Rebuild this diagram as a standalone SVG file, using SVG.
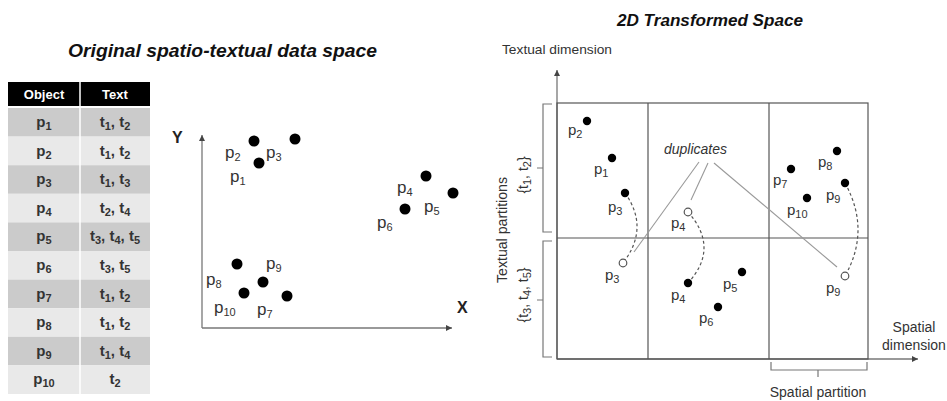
<svg xmlns="http://www.w3.org/2000/svg" width="947" height="401" viewBox="0 0 947 401">
<style>
text{font-family:"Liberation Sans",Arial,sans-serif;}
.title{font-weight:bold;font-style:italic;fill:#111;}
.th{font-size:13px;font-weight:bold;fill:#fff;text-anchor:middle;}
.td{font-size:15px;font-weight:bold;fill:#333;text-anchor:middle;}
.lab{font-size:17px;fill:#333;}
.rlab{font-size:15px;fill:#333;}
.ax{font-size:13px;fill:#333;}
.ax2{font-size:14px;fill:#333;}
.sub{font-size:11px;}
.rowA{fill:#cbcbcb;}
.rowB{fill:#e9e9e9;}
.dot{fill:#000;}
.hol{fill:#fff;stroke:#555;stroke-width:1.2;}
.axis{stroke:#777;stroke-width:1.3;fill:none;}
.grid{stroke:#555;stroke-width:1.2;fill:none;}
.br{stroke:#777;stroke-width:1.2;fill:none;}
.dup{stroke:#999;stroke-width:1.1;fill:none;}
.arc{stroke:#555;stroke-width:1.2;fill:none;stroke-dasharray:3,2.5;}
</style>
<defs>
<marker id="ah" markerWidth="8" markerHeight="8" refX="6" refY="3" orient="auto" markerUnits="userSpaceOnUse">
<path d="M0,0 L6,3 L0,6 z" fill="#444"/>
</marker>
</defs>

<text class="title" x="68" y="57" font-size="19" textLength="309" lengthAdjust="spacingAndGlyphs">Original spatio-textual data space</text>
<text class="title" x="617" y="26" font-size="16" textLength="186" lengthAdjust="spacingAndGlyphs">2D Transformed Space</text>

<g id="table">
<rect x="8" y="82" width="142" height="24" fill="#000"/>
<text class="th" x="44" y="99">Object</text>
<text class="th" x="115" y="99">Text</text>
<rect class="rowA" x="8" y="108" width="142" height="28.6"/>
<rect class="rowB" x="8" y="136.6" width="142" height="28.6"/>
<rect class="rowA" x="8" y="165.2" width="142" height="28.6"/>
<rect class="rowB" x="8" y="193.8" width="142" height="28.6"/>
<rect class="rowA" x="8" y="222.4" width="142" height="28.6"/>
<rect class="rowB" x="8" y="251" width="142" height="28.6"/>
<rect class="rowA" x="8" y="279.6" width="142" height="28.6"/>
<rect class="rowB" x="8" y="308.2" width="142" height="28.6"/>
<rect class="rowA" x="8" y="336.8" width="142" height="28.6"/>
<rect class="rowB" x="8" y="365.4" width="142" height="28.6"/>
<line x1="80" y1="82" x2="80" y2="394" stroke="#fff" stroke-width="1.5"/>
<text class="td" x="44" y="127">p<tspan class="sub" dy="3">1</tspan></text>
<text class="td" x="115" y="127">t<tspan class="sub" dy="3">1</tspan><tspan dy="-3">, t</tspan><tspan class="sub" dy="3">2</tspan></text>
<text class="td" x="44" y="155.6">p<tspan class="sub" dy="3">2</tspan></text>
<text class="td" x="115" y="155.6">t<tspan class="sub" dy="3">1</tspan><tspan dy="-3">, t</tspan><tspan class="sub" dy="3">2</tspan></text>
<text class="td" x="44" y="184.2">p<tspan class="sub" dy="3">3</tspan></text>
<text class="td" x="115" y="184.2">t<tspan class="sub" dy="3">1</tspan><tspan dy="-3">, t</tspan><tspan class="sub" dy="3">3</tspan></text>
<text class="td" x="44" y="212.8">p<tspan class="sub" dy="3">4</tspan></text>
<text class="td" x="115" y="212.8">t<tspan class="sub" dy="3">2</tspan><tspan dy="-3">, t</tspan><tspan class="sub" dy="3">4</tspan></text>
<text class="td" x="44" y="241.4">p<tspan class="sub" dy="3">5</tspan></text>
<text class="td" x="115" y="241.4">t<tspan class="sub" dy="3">3</tspan><tspan dy="-3">, t</tspan><tspan class="sub" dy="3">4</tspan><tspan dy="-3">, t</tspan><tspan class="sub" dy="3">5</tspan></text>
<text class="td" x="44" y="270">p<tspan class="sub" dy="3">6</tspan></text>
<text class="td" x="115" y="270">t<tspan class="sub" dy="3">3</tspan><tspan dy="-3">, t</tspan><tspan class="sub" dy="3">5</tspan></text>
<text class="td" x="44" y="298.6">p<tspan class="sub" dy="3">7</tspan></text>
<text class="td" x="115" y="298.6">t<tspan class="sub" dy="3">1</tspan><tspan dy="-3">, t</tspan><tspan class="sub" dy="3">2</tspan></text>
<text class="td" x="44" y="327.2">p<tspan class="sub" dy="3">8</tspan></text>
<text class="td" x="115" y="327.2">t<tspan class="sub" dy="3">1</tspan><tspan dy="-3">, t</tspan><tspan class="sub" dy="3">2</tspan></text>
<text class="td" x="44" y="355.8">p<tspan class="sub" dy="3">9</tspan></text>
<text class="td" x="115" y="355.8">t<tspan class="sub" dy="3">1</tspan><tspan dy="-3">, t</tspan><tspan class="sub" dy="3">4</tspan></text>
<text class="td" x="44" y="384.4">p<tspan class="sub" dy="3">10</tspan></text>
<text class="td" x="115" y="384.4">t<tspan class="sub" dy="3">2</tspan></text>
</g>

<g id="original-plot">
<path class="axis" d="M202,328 L202,135" marker-end="url(#ah)"/>
<path class="axis" d="M202,328 L452,328" marker-end="url(#ah)"/>
<text x="172" y="143" font-size="16" font-weight="bold" fill="#222">Y</text>
<text x="457" y="313" font-size="16" font-weight="bold" fill="#222">X</text>
<circle class="dot" cx="254" cy="141" r="5.5"/>
<circle class="dot" cx="295" cy="139" r="5.5"/>
<circle class="dot" cx="259" cy="163" r="5.5"/>
<circle class="dot" cx="426" cy="176" r="5.5"/>
<circle class="dot" cx="453" cy="193" r="5.5"/>
<circle class="dot" cx="405" cy="209" r="5.5"/>
<circle class="dot" cx="237" cy="264" r="5.5"/>
<circle class="dot" cx="263" cy="282" r="5.5"/>
<circle class="dot" cx="244" cy="293" r="5.5"/>
<circle class="dot" cx="287" cy="296" r="5.5"/>
<text class="lab" x="225" y="158">p<tspan class="sub" font-size="12" dy="3">2</tspan></text>
<text class="lab" x="266" y="158">p<tspan class="sub" font-size="12" dy="3">3</tspan></text>
<text class="lab" x="230" y="182">p<tspan class="sub" font-size="12" dy="3">1</tspan></text>
<text class="lab" x="397" y="193">p<tspan class="sub" font-size="12" dy="3">4</tspan></text>
<text class="lab" x="424" y="212">p<tspan class="sub" font-size="12" dy="3">5</tspan></text>
<text class="lab" x="377" y="228">p<tspan class="sub" font-size="12" dy="3">6</tspan></text>
<text class="lab" x="266" y="269">p<tspan class="sub" font-size="12" dy="3">9</tspan></text>
<text class="lab" x="206" y="285">p<tspan class="sub" font-size="12" dy="3">8</tspan></text>
<text class="lab" x="214" y="313">p<tspan class="sub" font-size="12" dy="3">10</tspan></text>
<text class="lab" x="257" y="315">p<tspan class="sub" font-size="12" dy="3">7</tspan></text>
</g>

<g id="transformed-space">
<text class="ax" x="502" y="54" textLength="110" lengthAdjust="spacingAndGlyphs">Textual dimension</text>
<path class="axis" d="M557,359 L557,70" marker-end="url(#ah)"/>
<path class="axis" d="M557,359 L918,359" marker-end="url(#ah)"/>
<rect class="grid" x="557" y="103" width="311" height="256"/>
<line class="grid" x1="557" y1="238" x2="868" y2="238"/>
<line class="grid" x1="648" y1="103" x2="648" y2="359"/>
<line class="grid" x1="769" y1="103" x2="769" y2="359"/>
<text class="ax2" x="914" y="332" text-anchor="middle">Spatial</text>
<text class="ax2" x="914" y="350" text-anchor="middle">dimension</text>
</g>

<g id="textual-partitions">
<path class="br" d="M552,104 L543,104 L543,232 L552,232 M543,168 L537,168"/>
<path class="br" d="M552,241 L543,241 L543,357 L552,357 M543,300 L537,300"/>
<text class="ax2" transform="translate(507,230) rotate(-90)" text-anchor="middle" textLength="106" lengthAdjust="spacingAndGlyphs">Textual partitions</text>
<text transform="translate(528,175) rotate(-90)" text-anchor="middle" font-size="14" fill="#333">{t<tspan class="sub" font-size="10" dy="3">1</tspan><tspan dy="-3">, t</tspan><tspan class="sub" font-size="10" dy="3">2</tspan><tspan dy="-3">}</tspan></text>
<text transform="translate(528,295) rotate(-90)" text-anchor="middle" font-size="14" fill="#333">{t<tspan class="sub" font-size="10" dy="3">3</tspan><tspan dy="-3">, t</tspan><tspan class="sub" font-size="10" dy="3">4</tspan><tspan dy="-3">, t</tspan><tspan class="sub" font-size="10" dy="3">5</tspan><tspan dy="-3">}</tspan></text>
</g>

<g id="spatial-partition">
<path class="br" d="M771,362 L771,370 L867,370 L867,362 M818,370 L818,377"/>
<text class="ax2" x="818" y="397" text-anchor="middle">Spatial partition</text>
</g>

<g id="connectors">
<line class="dup" x1="699" y1="162" x2="634" y2="252"/>
<line class="dup" x1="708" y1="163" x2="691" y2="200"/>
<line class="dup" x1="714" y1="163" x2="837" y2="267"/>
<path class="arc" d="M625,193 Q650,228 623,263"/>
<path class="arc" d="M688,212 Q720,248 688,283"/>
<path class="arc" d="M845,183 Q871,230 845,276"/>
</g>

<g id="transformed-points">
<circle class="dot" cx="587" cy="121" r="4.2"/>
<circle class="dot" cx="612" cy="158" r="4.2"/>
<circle class="dot" cx="625" cy="193" r="4.2"/>
<circle class="hol" cx="688" cy="212" r="3.8"/>
<circle class="hol" cx="623" cy="263" r="3.8"/>
<circle class="dot" cx="688" cy="283" r="4.2"/>
<circle class="dot" cx="742" cy="272" r="4.2"/>
<circle class="dot" cx="718" cy="307" r="4.2"/>
<circle class="dot" cx="837" cy="151" r="4.2"/>
<circle class="dot" cx="791" cy="169" r="4.2"/>
<circle class="dot" cx="845" cy="183" r="4.2"/>
<circle class="dot" cx="807" cy="198" r="4.2"/>
<circle class="hol" cx="845" cy="276" r="3.8"/>
<text x="664" y="154" font-size="14" font-style="italic" fill="#333" textLength="63" lengthAdjust="spacingAndGlyphs">duplicates</text>
<text class="rlab" x="568" y="135">p<tspan class="sub" font-size="10" dy="3">2</tspan></text>
<text class="rlab" x="594" y="174">p<tspan class="sub" font-size="10" dy="3">1</tspan></text>
<text class="rlab" x="608" y="212">p<tspan class="sub" font-size="10" dy="3">3</tspan></text>
<text class="rlab" x="671" y="228">p<tspan class="sub" font-size="10" dy="3">4</tspan></text>
<text class="rlab" x="605" y="280">p<tspan class="sub" font-size="10" dy="3">3</tspan></text>
<text class="rlab" x="671" y="300">p<tspan class="sub" font-size="10" dy="3">4</tspan></text>
<text class="rlab" x="723" y="289">p<tspan class="sub" font-size="10" dy="3">5</tspan></text>
<text class="rlab" x="699" y="323">p<tspan class="sub" font-size="10" dy="3">6</tspan></text>
<text class="rlab" x="818" y="167">p<tspan class="sub" font-size="10" dy="3">8</tspan></text>
<text class="rlab" x="773" y="185">p<tspan class="sub" font-size="10" dy="3">7</tspan></text>
<text class="rlab" x="826" y="200">p<tspan class="sub" font-size="10" dy="3">9</tspan></text>
<text class="rlab" x="787" y="215">p<tspan class="sub" font-size="10" dy="3">10</tspan></text>
<text class="rlab" x="826" y="293">p<tspan class="sub" font-size="10" dy="3">9</tspan></text>
</g>
</svg>
